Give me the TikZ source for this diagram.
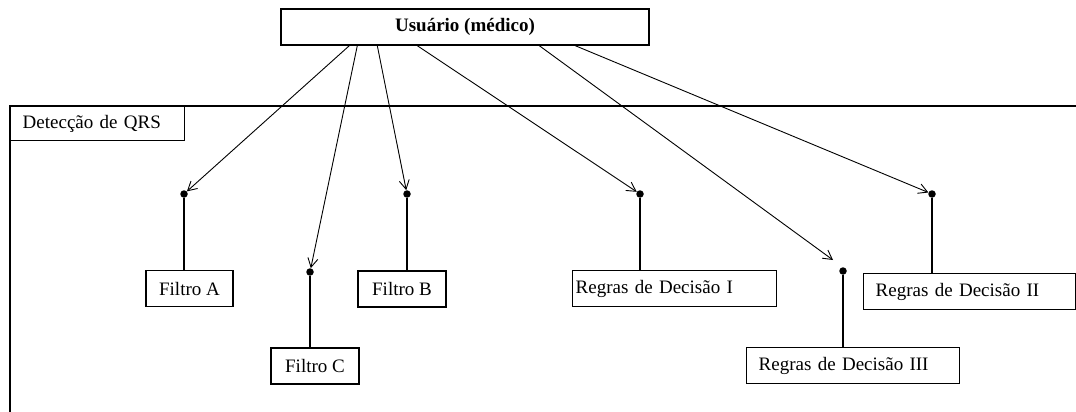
\documentclass[tikz,border=0pt]{standalone}
\usepackage{fontspec}
\setmainfont{Liberation Serif}
\usetikzlibrary{arrows.meta}
\begin{document}
\begin{tikzpicture}[x=1pt,y=-1pt,
  lbl/.style={font=\fontsize{19}{22}\selectfont},
  box/.style={draw, line width=1.4pt, lbl, fill=white, minimum height=36pt, inner ysep=0pt},
  dot/.style={circle, fill, inner sep=0pt, minimum size=7.5pt},
  link/.style={line width=0.9pt, -{Straight Barb[length=9pt,width=10pt]}},
  stem/.style={line width=1.2pt},
  frame/.style={line width=1.3pt}]
\useasboundingbox (0,0) rectangle (1076,412);
\fill[white] (0,0) rectangle (1076,412);

% package frame with its tab
\draw[frame] (10,412) -- (10,106) -- (1076,106);
\node[box, anchor=north west, minimum width=174pt, minimum height=34pt,
      inner xsep=12pt, text width=150pt, align=left] (pkg) at (10,106) {Detecção de QRS};

% actor
\node[box, font=\bfseries\fontsize{19}{22}\selectfont, minimum width=368pt,
      align=center] (user) at (465,27) {Usuário (médico)};

% components
\node[box, minimum width=87pt, align=center] (fA) at (189.5,288.5) {Filtro A};
\node[box, minimum width=88pt, align=center] (fB) at (402,289) {Filtro B};
\node[box, minimum width=88pt, align=center] (fC) at (315,366) {Filtro C};
\node[box, anchor=west, inner xsep=3pt, text width=198pt, align=left] (r1) at (572,288.5) {Regras de Decisão I};
\node[box, anchor=west, inner xsep=12pt, text width=188pt, align=left] (r2) at (863,291.5) {Regras de Decisão II};
\node[box, anchor=west, inner xsep=12pt, text width=189pt, align=left] (r3) at (746,365.5) {Regras de Decisão III};

% interface points
\node[dot] (dA) at (184,194) {};
\node[dot] (dB) at (407,194) {};
\node[dot] (dC) at (310,272) {};
\node[dot] (d1) at (640,194) {};
\node[dot] (d2) at (932,194) {};
\node[dot] (d3) at (843,271) {};

% stems from interface points to components
\draw[stem] (dA) -- (dA |- fA.north);
\draw[stem] (dB) -- (dB |- fB.north);
\draw[stem] (dC) -- (dC |- fC.north);
\draw[stem] (d1) -- (d1 |- r1.north);
\draw[stem] (d2) -- (d2 |- r2.north);
\draw[stem] (d3) -- (d3 |- r3.north);

% start points on the actor's lower edge
\path (user.south west) ++(69,0) coordinate (sA);
\path (user.south west) ++(77,0) coordinate (sC);
\path (user.south west) ++(97,0) coordinate (sB);
\path (user.south west) ++(137,0) coordinate (s1);
\path (user.south west) ++(259,0) coordinate (s3);
\path (user.south west) ++(295,0) coordinate (s2);
\coordinate (e3) at (833,260);

% dependencies
\draw[link] (sA) -- (dA);
\draw[link] (sC) -- (dC);
\draw[link] (sB) -- (dB);
\draw[link] (s1) -- (d1);
\draw[link] (s3) -- (e3);
\draw[link] (s2) -- (d2);
\end{tikzpicture}
\end{document}
